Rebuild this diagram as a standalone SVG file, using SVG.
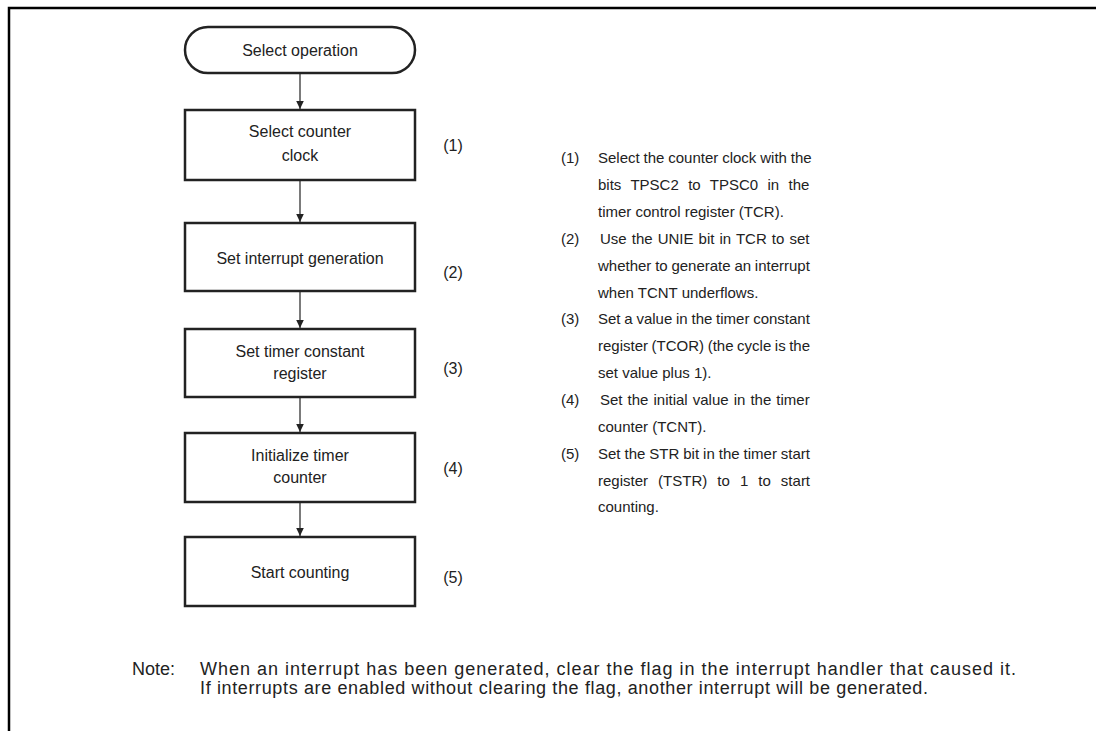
<svg xmlns="http://www.w3.org/2000/svg" width="1096" height="731" viewBox="0 0 1096 731">
<style>
.t{font-family:"Liberation Sans",Arial,sans-serif;font-size:16px;fill:#222}
.d{font-family:"Liberation Sans",Arial,sans-serif;font-size:15px;fill:#222}
.n{font-family:"Liberation Sans",Arial,sans-serif;font-size:18px;fill:#222}
.c{text-anchor:middle}
.box{fill:#fff;stroke:#222;stroke-width:2.5}
.ln{stroke:#222;stroke-width:1.2;fill:none}
.frame{stroke:#000;stroke-width:2.5;fill:none}
</style>
<defs>
<marker id="ah" markerWidth="8" markerHeight="10" refX="8" refY="5" orient="auto" markerUnits="userSpaceOnUse" viewBox="0 0 8 10">
<path d="M0,1.2 L8,5 L0,8.8 Z" fill="#222"/>
</marker>
</defs>
<rect width="1096" height="731" fill="#fff"/>
<path class="frame" d="M9,731 L9,8 L1096,8"/>
<g id="connectors">
<line class="ln" x1="300" y1="73" x2="300" y2="109" marker-end="url(#ah)"/>
<line class="ln" x1="300" y1="181" x2="300" y2="222" marker-end="url(#ah)"/>
<line class="ln" x1="300" y1="292" x2="300" y2="328" marker-end="url(#ah)"/>
<line class="ln" x1="300" y1="398" x2="300" y2="432" marker-end="url(#ah)"/>
<line class="ln" x1="300" y1="503" x2="300" y2="536" marker-end="url(#ah)"/>
</g>
<g id="start">
<rect class="box" x="185" y="27" width="230" height="46" rx="23" ry="23" stroke-width="2"/>
<text class="t c" x="300" y="56">Select operation</text>
</g>
<g id="step1">
<rect class="box" x="185" y="110" width="230" height="70"/>
<text class="t c" x="300" y="137">Select counter</text>
<text class="t c" x="300" y="161">clock</text>
<text class="t c" x="453" y="151">(1)</text>
</g>
<g id="step2">
<rect class="box" x="185" y="223" width="230" height="68"/>
<text class="t c" x="300" y="264">Set interrupt generation</text>
<text class="t c" x="453" y="278">(2)</text>
</g>
<g id="step3">
<rect class="box" x="185" y="329" width="230" height="68"/>
<text class="t c" x="300" y="357">Set timer constant</text>
<text class="t c" x="300" y="379">register</text>
<text class="t c" x="453" y="374">(3)</text>
</g>
<g id="step4">
<rect class="box" x="185" y="433" width="230" height="69"/>
<text class="t c" x="300" y="461">Initialize timer</text>
<text class="t c" x="300" y="483">counter</text>
<text class="t c" x="453" y="474">(4)</text>
</g>
<g id="step5">
<rect class="box" x="185" y="537" width="230" height="69"/>
<text class="t c" x="300" y="578">Start counting</text>
<text class="t c" x="453" y="583">(5)</text>
</g>
<g id="description">
<text class="d" x="561" y="163">(1)</text>
<text class="d" x="598" y="163" word-spacing="-0.3">Select the counter clock with the</text>
<text class="d" x="598" y="190" word-spacing="5.2">bits TPSC2 to TPSC0 in the</text>
<text class="d" x="598" y="217">timer control register (TCR).</text>
<text class="d" x="561" y="244">(2)</text>
<text class="d" x="600" y="244" word-spacing="0.9">Use the UNIE bit in TCR to set</text>
<text class="d" x="598" y="271" word-spacing="-0.4">whether to generate an interrupt</text>
<text class="d" x="598" y="298">when TCNT underflows.</text>
<text class="d" x="561" y="324">(3)</text>
<text class="d" x="598" y="324" word-spacing="-0.4">Set a value in the timer constant</text>
<text class="d" x="598" y="351" word-spacing="-0.6">register (TCOR) (the cycle is the</text>
<text class="d" x="598" y="378">set value plus 1).</text>
<text class="d" x="561" y="405">(4)</text>
<text class="d" x="600" y="405" word-spacing="0.9">Set the initial value in the timer</text>
<text class="d" x="598" y="432">counter (TCNT).</text>
<text class="d" x="561" y="459">(5)</text>
<text class="d" x="598" y="459" word-spacing="-0.2">Set the STR bit in the timer start</text>
<text class="d" x="598" y="486" word-spacing="5.9">register (TSTR) to 1 to start</text>
<text class="d" x="598" y="512">counting.</text>
</g>
<g id="note">
<text class="n" x="132" y="675">Note:</text>
<text class="n" x="200" y="675" textLength="816" lengthAdjust="spacing">When an interrupt has been generated, clear the flag in the interrupt handler that caused it.</text>
<text class="n" x="200" y="694" textLength="728" lengthAdjust="spacing">If interrupts are enabled without clearing the flag, another interrupt will be generated.</text>
</g>
</svg>
